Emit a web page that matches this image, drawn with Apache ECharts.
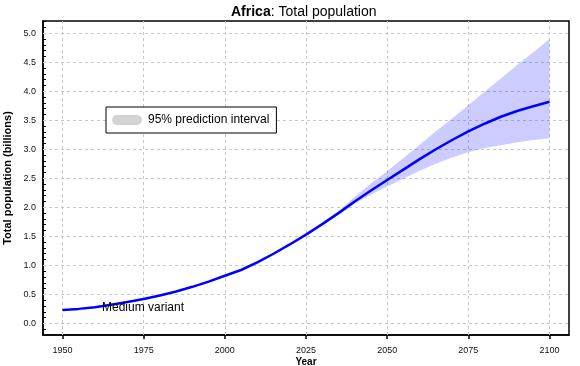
<!DOCTYPE html>
<html>
<head>
<meta charset="utf-8">
<script src="https://cdn.jsdelivr.net/npm/echarts@6/dist/echarts.min.js"></script>
<style>html,body{margin:0;padding:0;background:#fff;}#c{width:580px;height:366px;}</style>
</head>
<body>
<div id="c"></div>
<script>
// ---- data ----
var years = [1950,1955,1960,1965,1970,1975,1980,1985,1990,1995,2000,2005,2010,2015,2020,2025,2030,2035,2040,2045,2050,2055,2060,2065,2070,2075,2080,2085,2090,2095,2100];
var medianVariant = [0.23,0.25,0.28,0.32,0.37,0.42,0.48,0.55,0.63,0.72,0.82,0.92,1.05,1.20,1.36,1.53,1.71,1.90,2.10,2.29,2.47,2.65,2.83,3.00,3.16,3.31,3.44,3.56,3.66,3.74,3.82];
var bandYears = [2030,2035,2040,2045,2050,2055,2060,2065,2070,2075,2080,2085,2090,2095,2100];
var lower95 = [1.70,1.87,2.06,2.22,2.36,2.49,2.63,2.75,2.86,2.95,3.02,3.07,3.12,3.16,3.19];
var upper95 = [1.72,1.93,2.18,2.41,2.62,2.85,3.08,3.31,3.53,3.76,3.99,4.22,4.45,4.67,4.90];
var xTickLabels = [1950,1975,2000,2025,2050,2075,2100];
var yTickLabels = [0,0.5,1.0,1.5,2.0,2.5,3.0,3.5,4.0,4.5,5.0];
var bandName = '95% prediction interval';
var lineName = 'Medium variant';

// ---- build ----
var lineData = years.map(function(y,i){return [y, medianVariant[i]];});
var bandData = bandYears.map(function(y,i){return [y, lower95[i], upper95[i]];});
var yMinor = [];
for (var k=-1;k<=52;k++){ yMinor.push(Math.round(k)/10); }
var gridStyle = {color:'#c8c8c8', type:[3,3], width:1};
var gridLines = xTickLabels.map(function(v){return {xAxis:v};}).concat(yTickLabels.map(function(v){return {yAxis:v};}));

function renderBand(params, api){
  if (params.dataIndex !== 0) return null;
  var pts = [];
  for (var i=0;i<bandData.length;i++){ pts.push(api.coord([bandData[i][0], bandData[i][2]])); }
  for (var j=bandData.length-1;j>=0;j--){ pts.push(api.coord([bandData[j][0], bandData[j][1]])); }
  return {type:'polygon', shape:{points:pts}, style:{fill:'rgba(0,0,255,0.2)'}, silent:true};
}

var chart = echarts.init(document.getElementById('c'));
chart.setOption({
  animation:false,
  backgroundColor:'#fff',
  textStyle:{fontFamily:'Liberation Sans, Arial, sans-serif'},
  title:{
    text:'{b|Africa}{n|: Total population}',
    left:231, top:5, padding:0,
    textStyle:{fontWeight:'normal',fontSize:14,color:'#000',rich:{
      b:{fontSize:14,fontWeight:'bold',color:'#000',fontFamily:'Liberation Sans'},
      n:{fontSize:14,fontWeight:'normal',color:'#000',fontFamily:'Liberation Sans'}
    }}
  },
  legend:{
    data:[{name:bandName, itemStyle:{color:'#d3d3d3'}}],
    left:106, top:107,
    orient:'vertical',
    icon:'path://M5,0 H25 A5,5 0 0 1 25,10 H5 A5,5 0 0 1 5,0 Z',
    itemWidth:30, itemHeight:10, itemGap:0,
    padding:[7,7,7,6],
    backgroundColor:'#fff',
    borderColor:'#000', borderWidth:1, borderRadius:0,
    textStyle:{fontSize:12,color:'#000',fontFamily:'Liberation Sans',padding:[0,0,0,1]},
    selectedMode:false
  },
  grid:{left:43,right:11,top:21,bottom:31,show:true,borderColor:'#000',borderWidth:1.5,backgroundColor:'transparent',
        outerBoundsMode:'none', containLabel:false},
  xAxis:{
    type:'value', min:1944, max:2106,
    name:'Year', nameLocation:'middle', nameGap:22, nameMoveOverlap:false,
    nameTextStyle:{fontSize:10,fontWeight:'bold',color:'#000'},
    axisLine:{show:true,onZero:false,lineStyle:{color:'#000',width:1.5}},
    axisTick:{show:true,inside:false,length:4,customValues:xTickLabels,lineStyle:{color:'#000',width:1.5}},
    axisLabel:{customValues:xTickLabels,fontSize:9,color:'#111',margin:11,formatter:function(v){return String(v);}},
    splitLine:{show:false}
  },
  yAxis:{
    type:'value', min:-0.2, max:5.21,
    name:'Total population (billions)', nameLocation:'middle', nameGap:30, nameMoveOverlap:false,
    nameTextStyle:{fontSize:11,fontWeight:'bold',color:'#000'},
    axisLine:{show:true,onZero:false,lineStyle:{color:'#000',width:1.5}},
    axisTick:{show:true,inside:true,length:3,customValues:yMinor,lineStyle:{color:'#000',width:1}},
    axisLabel:{customValues:yTickLabels,fontSize:9,color:'#111',margin:7,formatter:function(v){return v.toFixed(1);}},
    splitLine:{show:false}
  },
  series:[
    {type:'line', name:'grid', data:lineData, symbol:'none', lineStyle:{opacity:0}, silent:true, z:1,
     markLine:{silent:true, z:1, symbol:['none','none'], label:{show:false}, lineStyle:gridStyle, data:gridLines}},
    {type:'custom', name:bandName, data:bandData, renderItem:renderBand, itemStyle:{color:'#d3d3d3'}, silent:true, z:2,
     encode:{x:0, y:[1,2]}, clip:true},
    {type:'line', name:lineName, data:lineData, symbol:'none', lineStyle:{color:'#0000ff',width:2.5}, z:3}
  ],
  graphic:[
    {type:'text', left:102, top:302, z:100, style:{text:lineName, fontSize:12, fill:'#000', fontFamily:'Liberation Sans'}}
  ]
});
</script>
</body>
</html>
